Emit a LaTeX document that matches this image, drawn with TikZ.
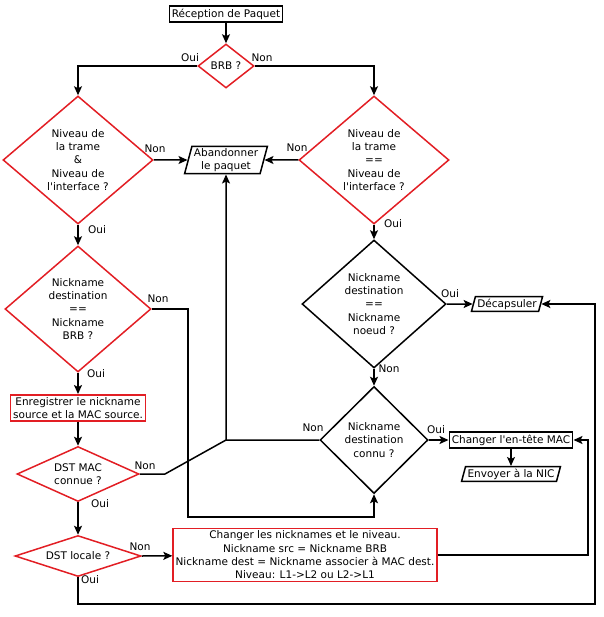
\documentclass[tikz,border=0pt]{standalone}
\usepackage{fontspec}
\setmainfont{DejaVu Sans}[Ligatures=TeXOff]
\usetikzlibrary{arrows.meta,shapes.geometric}
\definecolor{boxred}{RGB}{226,30,36}

\begin{document}
\begin{tikzpicture}[x=1pt,y=-1pt,
  font=\fontsize{10.5}{13.3}\selectfont, line width=1.5pt,
  >={Stealth[length=9pt,width=8pt,inset=2pt]},
  proc/.style={draw, rectangle, inner sep=2.5pt, align=center},
  io/.style={draw, trapezium, trapezium left angle=75, trapezium right angle=105,
    inner sep=2pt, align=center},
  test/.style={draw, diamond, inner sep=0pt, align=center},
  rouge/.style={draw=boxred},
  lbl/.style={inner sep=1pt}]
% page frame, in pixels of the reference
\useasboundingbox (0,0) rectangle (603,617);

% boxes and tests
\node[proc] (rec) at (226,14) {Réception de Paquet};
\node[test, rouge, shape aspect=1.3, minimum width=56pt, minimum height=44pt] (brb) at (226,66) {BRB ?};
\node[test, rouge, minimum width=150pt, minimum height=128pt] (nivg) at (78,160)
  {Niveau de\\la trame\\\&\\Niveau de\\l'interface ?};
\node[test, rouge, minimum width=150pt, minimum height=128pt] (nivd) at (374,160)
  {Niveau de\\la trame\\==\\Niveau de\\l'interface ?};
\node[io] (aband) at (226,160) {Abandonner\\le paquet};
\node[test, rouge, minimum width=146pt, minimum height=126pt] (nickg) at (78,309)
  {Nickname\\destination\\==\\Nickname\\BRB ?};
\node[test, minimum width=144pt, minimum height=128pt] (nickd) at (374,304)
  {Nickname\\destination\\==\\Nickname\\noeud ?};
\node[io] (decap) at (507,304) {Décapsuler};
\node[proc, rouge] (enreg) at (78,408) {Enregistrer le nickname\\source et la MAC source.};
\node[test, rouge, shape aspect=2.2, minimum width=122pt, minimum height=55pt] (dstmac) at (78,474)
  {DST MAC\\connue ?};
\node[test, minimum width=108pt, minimum height=107pt] (connu) at (374,440)
  {Nickname\\destination\\connu ?};
\node[proc] (entete) at (511,440) {Changer l'en-tête MAC};
\node[io] (nic) at (511,474) {Envoyer à la NIC};
\node[test, rouge, shape aspect=3, minimum width=126pt, minimum height=41pt] (dstloc) at (78,556)
  {DST locale ?};
\node[proc, rouge] (chnick) at (305,555)
  {Changer les nicknames et le niveau.\\Nickname src = Nickname BRB\\
   Nickname dest = Nickname associer à MAC dest.\\Niveau: L1->L2 ou L2->L1};

% bends of the long connectors
\coordinate (jab) at (226,440);
\coordinate (jmac) at (165,474);
\coordinate (jng) at (188,517);
\coordinate (jch) at (588,555);
\coordinate (jloc) at (595,604);

% connectors
\draw[->] (rec) -- (brb);
\draw[->] (brb.west) -| (nivg.north);
\draw[->] (brb.east) -| (nivd.north);
\draw[->] (nivg.east) -- (aband);
\draw[->] (nivd.west) -- (aband);
\draw[->] (nivg) -- (nickg);
\draw[->] (nivd) -- (nickd);
\draw[->] (nickd.east) -- (decap);
\draw[->] (nickd) -- (connu);
\draw[->] (connu.east) -- (entete);
\draw[->] (entete) -- (nic);
\draw[->] (connu.west) -- (jab) -- (aband.south);
\draw (dstmac.east) -- (jmac) -- (jab);
\draw[->] (nickg.east) -| (jng) -| (connu.south);
\draw[->] (nickg) -- (enreg);
\draw[->] (enreg) -- (dstmac);
\draw[->] (dstmac) -- (dstloc);
\draw[->] (dstloc.east) -- (chnick);
\draw[->] (chnick.east) -- (jch) |- (entete.east);
\draw[->] (dstloc.south) |- (jloc) |- (decap.east);

% answers
\node[lbl] (o1) at (190,58) {Oui};
\node[lbl] (n1) at (262,58) {Non};
\node[lbl] (n2) at (155,149) {Non};
\node[lbl] (n3) at (297,148) {Non};
\node[lbl] (o2) at (97,230) {Oui};
\node[lbl] (o3) at (393,224) {Oui};
\node[lbl] (n4) at (158,299) {Non};
\node[lbl] (o4) at (450,294) {Oui};
\node[lbl] (n5) at (389,369) {Non};
\node[lbl] (o5) at (96,374) {Oui};
\node[lbl] (n6) at (313,428) {Non};
\node[lbl] (o6) at (436,430) {Oui};
\node[lbl] (n7) at (145,466) {Non};
\node[lbl] (o7) at (100,504) {Oui};
\node[lbl] (n8) at (140,547) {Non};
\node[lbl] (o8) at (90,580) {Oui};
\end{tikzpicture}
\end{document}
